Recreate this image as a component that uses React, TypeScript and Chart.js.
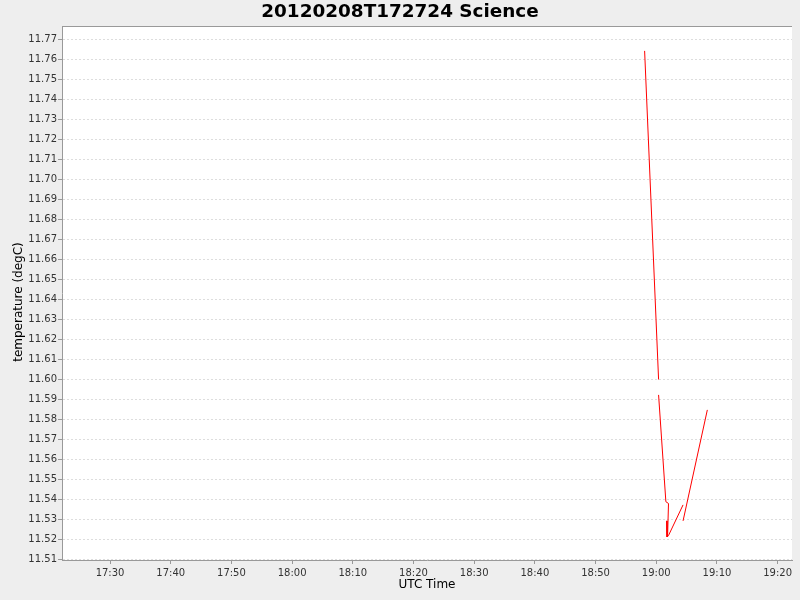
import React, { useEffect, useRef } from "react";
import { Chart, registerables } from "chart.js";

Chart.register(...registerables);

const TITLE = "20120208T172724 Science";
const X_TITLE = "UTC Time";
const Y_TITLE = "temperature (degC)";

// UTC times of the samples (null marks a break in the record)
const times: (string | null)[] = [
  "18:58:05", "19:00:23", null,
  "19:00:23", "19:01:35", "19:02:01", "19:01:52", "19:01:44", "19:01:46",
  "19:02:04", "19:04:25", null,
  "19:04:25", "19:08:25",
];
// temperature (degC)
const temps: (number | null)[] = [
  11.7643, 11.6000, null,
  11.5923, 11.5389, 11.5380, 11.5213, 11.5293, 11.5213,
  11.5223, 11.5373, null,
  11.5293, 11.5848,
];

const X_TICKS = ["17:30", "17:40", "17:50", "18:00", "18:10", "18:20", "18:30", "18:40", "18:50", "19:00", "19:10", "19:20"];
const Y_TICKS = [11.51, 11.52, 11.53, 11.54, 11.55, 11.56, 11.57, 11.58, 11.59, 11.6, 11.61, 11.62, 11.63, 11.64, 11.65, 11.66, 11.67, 11.68, 11.69, 11.7, 11.71, 11.72, 11.73, 11.74, 11.75, 11.76, 11.77];
const X_MIN = "17:22:05";
const X_MAX = "19:22:22";
const Y_MIN = 11.50975;
const Y_MAX = 11.77675;

const toSec = (s: string) => {
  const p = s.split(":").map(Number);
  return p[0] * 3600 + p[1] * 60 + (p[2] || 0);
};
const fmt = (v: number) => {
  const h = Math.floor(v / 3600);
  const m = Math.round((v - h * 3600) / 60);
  return String(h).padStart(2, "0") + ":" + String(m).padStart(2, "0");
};

const FONT = "'DejaVu Sans', sans-serif";

export default function App() {
  const ref = useRef<HTMLCanvasElement | null>(null);
  useEffect(() => {
    if (!ref.current) return;
    const points = times.map((t, i) =>
      t === null ? { x: NaN, y: null } : { x: toSec(t), y: temps[i] }
    );
    const plotBg = {
      id: "plotBg",
      beforeDraw(chart: any) {
        const { ctx, chartArea: a } = chart;
        ctx.save();
        ctx.fillStyle = "#ffffff";
        ctx.fillRect(a.left, a.top, a.right - a.left, a.bottom - a.top);
        ctx.restore();
      },
      afterDraw(chart: any) {
        const { ctx, chartArea: a, width } = chart;
        ctx.save();
        ctx.strokeStyle = "#999999";
        ctx.lineWidth = 1;
        ctx.beginPath();
        ctx.moveTo(a.left, a.top + 0.5);
        ctx.lineTo(a.right, a.top + 0.5);
        ctx.stroke();
        // chart title, centred on the full canvas
        ctx.fillStyle = "#000000";
        ctx.font = "bold 18.4px " + FONT;
        ctx.textAlign = "center";
        ctx.textBaseline = "middle";
        ctx.fillText(TITLE, width / 2, 12);
        // y axis title
        ctx.translate(19, (a.top + a.bottom) / 2 + 9);
        ctx.rotate(-Math.PI / 2);
        ctx.font = "12px " + FONT;
        ctx.fillText(Y_TITLE, 0, 0);
        ctx.restore();
      },
    };
    const chart = new Chart(ref.current, {
      type: "line",
      data: {
        datasets: [
          {
            data: points as any,
            borderColor: "#ff0000",
            borderWidth: 1,
            pointRadius: 0,
            spanGaps: false,
            tension: 0,
            fill: false,
          },
        ],
      },
      options: {
        animation: false,
        responsive: false,
        devicePixelRatio: 1,
        layout: { padding: { right: 8, left: 0, top: 26, bottom: 0 } },
        plugins: {
          legend: { display: false },
          tooltip: { enabled: false },
          title: { display: false },
        },
        scales: {
          x: {
            type: "linear",
            min: toSec(X_MIN),
            max: toSec(X_MAX),
            afterBuildTicks(scale: any) {
              scale.ticks = X_TICKS.map((t) => ({ value: toSec(t) }));
            },
            afterFit(scale: any) {
              scale.height = 40;
            },
            ticks: {
              callback: (v: any) => fmt(Number(v)),
              font: { family: FONT, size: 10 },
              color: "#333333",
              padding: 3,
              maxRotation: 0,
              autoSkip: false,
            },
            grid: {
              drawOnChartArea: false,
              drawTicks: true,
              tickLength: 4,
              tickColor: "#999999",
              tickWidth: 1,
            },
            border: { display: true, color: "#999999", width: 1 },
            title: {
              display: true,
              text: X_TITLE,
              color: "#000000",
              font: { family: FONT, size: 12, lineHeight: 1.2 },
              padding: { top: 0, bottom: 8 },
            },
          },
          y: {
            type: "linear",
            min: Y_MIN,
            max: Y_MAX,
            afterBuildTicks(scale: any) {
              scale.ticks = Y_TICKS.map((v) => ({ value: v }));
            },
            afterFit(scale: any) {
              scale.width = 62;
            },
            ticks: {
              callback: (v: any) => Number(v).toFixed(2),
              font: { family: FONT, size: 10 },
              color: "#333333",
              padding: 1,
              autoSkip: false,
            },
            grid: {
              color: "#dddddd",
              lineWidth: 1,
              drawTicks: true,
              tickLength: 4,
              tickColor: "#999999",
              tickWidth: 1,
            },
            border: { display: true, color: "#999999", width: 1, dash: [2, 2] },
            title: { display: false },
          },
        },
      },
      plugins: [plotBg],
    } as any);
    return () => chart.destroy();
  }, []);
  return (
    <div
      style={{
        position: "absolute",
        left: 0,
        top: 0,
        width: 800,
        height: 600,
        background: "#eeeeee",
      }}
    >
      <canvas ref={ref} width={800} height={600} style={{ width: 800, height: 600 }} />
    </div>
  );
}
